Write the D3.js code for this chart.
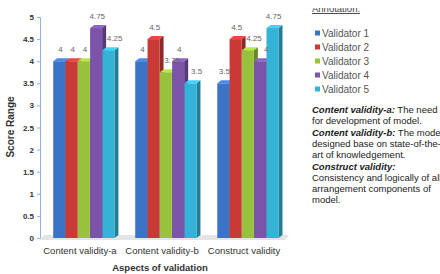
<!DOCTYPE html>
<html>
<head>
<meta charset="utf-8">
<script src="https://cdn.jsdelivr.net/npm/d3@7"></script>
<style>
  body { margin: 0; background: #fff; }
  svg { display: block; font-family: "Liberation Sans", Arial, sans-serif; }
</style>
</head>
<body>
<div id="chart"></div>
<script>
const categories = ["Content validity-a", "Content validity-b", "Construct validity"];
const validators = ["Validator 1", "Validator 2", "Validator 3", "Validator 4", "Validator 5"];
const scores = [
  [4, 4, 4, 4.75, 4.25],
  [4, 4.5, 3.75, 4, 3.5],
  [3.5, 4.5, 4.25, 4, 4.75]
];
const yTicks = [0, 0.5, 1, 1.5, 2, 2.5, 3, 3.5, 4, 4.5, 5];
const colors = ["#3b74c6", "#c93a37", "#98c23e", "#7b53a9", "#34b3d6"];
const notes = [
  [{ t: "Content validity-a:", b: true }, { t: " The need" }],
  [{ t: "for development of model." }],
  [{ t: "Content validity-b:", b: true }, { t: " The model" }],
  [{ t: "designed base on state-of-the-" }],
  [{ t: "art of knowledgement." }],
  [{ t: "Construct validity:", b: true }],
  [{ t: "Consistency and logically of all" }],
  [{ t: "arrangement components of" }],
  [{ t: "model." }]
];

const width = 440, height = 274;
const svg = d3.select("#chart").append("svg").attr("width", width).attr("height", height);

const y = d3.scaleLinear().domain([0, 5]).range([238, 17]);
const x0 = d3.scaleBand().domain(categories).range([45, 287]).paddingInner(0.25).paddingOuter(0.1);
const x1 = d3.scaleBand().domain(validators).range([0, x0.bandwidth()]);
const dx = 4, dy = 3;

// floor
svg.append("path")
  .attr("d", `M40,${y(0) + 2} L${x0.range()[1] - 2},${y(0) + 2} L${x0.range()[1] + 2},${y(0) - 3} L44,${y(0) - 3} Z`)
  .attr("fill", "#e4e4e4");

// y axis
const yAxis = svg.append("g").attr("transform", "translate(40,0)")
  .call(d3.axisLeft(y).tickValues(yTicks).tickSize(3).tickFormat(d3.format("~g")));
yAxis.select(".domain").attr("stroke", "#8fb4e3");
yAxis.selectAll(".tick line").attr("stroke", "#8fb4e3");
yAxis.selectAll(".tick text").attr("font-size", 8).attr("font-weight", "bold").attr("fill", "#333").attr("x", -6);

// bars
const groups = svg.append("g").selectAll("g").data(categories).join("g")
  .attr("transform", d => `translate(${x0(d)},0)`);

groups.each(function(cat, ci) {
  const g = d3.select(this);
  validators.forEach((v, vi) => {
    const val = scores[ci][vi];
    const bx = x1(v), bw = x1.bandwidth() - 0.3, top = y(val), bot = y(0);
    const c = d3.color(colors[vi]);
    g.append("path")
      .attr("d", `M${bx + bw},${top} L${bx + bw + dx},${top - dy} L${bx + bw + dx},${bot - dy} L${bx + bw},${bot} Z`)
      .attr("fill", c.darker(1));
    g.append("rect")
      .attr("x", bx).attr("y", top).attr("width", bw).attr("height", bot - top)
      .attr("fill", colors[vi]);
    g.append("path")
      .attr("d", `M${bx},${top} L${bx + dx},${top - dy} L${bx + bw + dx},${top - dy} L${bx + bw},${top} Z`)
      .attr("fill", c.brighter(0.5));
  });
  // value labels, nudged right when they would sit on a taller neighbour
  validators.forEach((v, vi) => {
    const val = scores[ci][vi];
    const prev = vi > 0 ? scores[ci][vi - 1] : 0;
    const shift = prev > val ? 5 : 0;
    g.append("text")
      .attr("x", x1(v) + x1.bandwidth() / 2 + 1 + shift).attr("y", y(val) - 9)
      .attr("text-anchor", "middle").attr("font-size", 8).attr("fill", "#666")
      .text(val);
  });
});

// category labels
svg.append("g").selectAll("text").data(categories).join("text")
  .attr("x", d => x0(d) + x0.bandwidth() / 2 - 4).attr("y", 254)
  .attr("text-anchor", "middle").attr("font-size", 9.5).attr("fill", "#333")
  .text(d => d);

svg.append("text").attr("x", 160).attr("y", 271).attr("text-anchor", "middle")
  .attr("font-size", 9.5).attr("font-weight", "bold").attr("fill", "#333")
  .text("Aspects of validation");

svg.append("text").attr("transform", "translate(14,127) rotate(-90)")
  .attr("text-anchor", "middle").attr("font-size", 10).attr("font-weight", "bold").attr("fill", "#333")
  .text("Score Range");

// annotation header, only its lower part shows
svg.append("clipPath").attr("id", "headclip")
  .append("rect").attr("x", 300).attr("y", 8).attr("width", 140).attr("height", 10);
svg.append("text").attr("x", 312).attr("y", 12).attr("font-size", 9.5).attr("fill", "#444")
  .attr("clip-path", "url(#headclip)")
  .attr("text-decoration", "underline").text("Annotation:");

// legend
const legend = svg.append("g").selectAll("g").data(validators).join("g")
  .attr("transform", (d, i) => `translate(315,${33 + i * 14})`);
legend.append("rect").attr("x", 0).attr("y", -2.5).attr("width", 5).attr("height", 5)
  .attr("fill", (d, i) => colors[i]);
legend.append("text").attr("x", 7).attr("y", 3.5).attr("font-size", 10).attr("fill", "#555").text(d => d);

// notes
const nt = svg.append("g").selectAll("text").data(notes).join("text")
  .attr("x", 312).attr("y", (d, i) => 113 + i * 11.3)
  .attr("font-size", 9.5).attr("fill", "#222");
nt.selectAll("tspan").data(d => d).join("tspan")
  .attr("font-weight", d => d.b ? "bold" : null)
  .attr("font-style", d => d.b ? "italic" : null)
  .text(d => d.t);
</script>
</body>
</html>
